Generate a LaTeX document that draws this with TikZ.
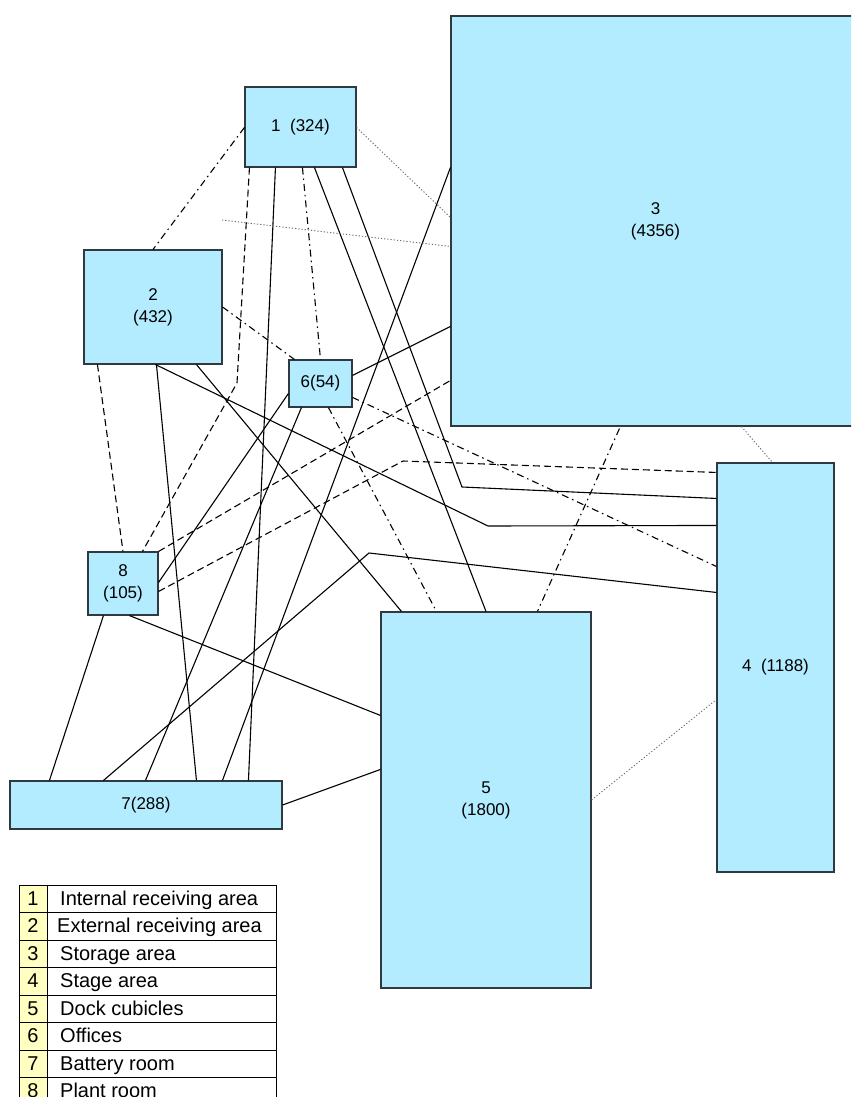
\documentclass[tikz,border=0pt]{standalone}
\usepackage{fontspec}
\setmainfont{Liberation Sans}
\usetikzlibrary{calc}
\definecolor{roomfill}{HTML}{B3ECFF}
\definecolor{roomedge}{HTML}{2E3A40}
\definecolor{keyfill}{HTML}{FFFFC2}
\begin{document}
\begin{tikzpicture}[x=1pt,y=-1pt,
  room/.style={draw=roomedge, fill=roomfill, line width=1.1pt, inner sep=0pt,
    align=center, font=\fontsize{17}{22}\selectfont},
  link/.style={line width=1.1pt, line join=miter},
  dashedlink/.style={link, dash pattern=on 7pt off 4pt},
  dashdotlink/.style={link, dash pattern=on 7pt off 4pt on 1.5pt off 4pt},
  dottedlink/.style={line width=0.9pt, draw=black!60, dash pattern=on 1.2pt off 2pt},
  keycell/.style={draw=black, line width=0.9pt, inner sep=0pt, minimum height=27.5pt},
  keytext/.style={inner sep=0pt, font=\fontsize{20}{24}\selectfont}]
\path[use as bounding box] (0,0) rectangle (851,1097);
\clip (0,0) rectangle (851,1097);

% rooms (area in brackets)
\node[room, minimum width=111, minimum height=80]  (n1) at (300.5,127)   {1\ \ (324)};
\node[room, minimum width=138, minimum height=114] (n2) at (153,307)     {2\\(432)};
\node[room, minimum width=409, minimum height=410] (n3) at (655.5,221)   {3\\(4356)};
\node[room, minimum width=117, minimum height=409] (n4) at (775.5,667.5) {4\ \ (1188)};
\node[room, minimum width=210, minimum height=376] (n5) at (486,800)     {5\\(1800)};
\node[room, minimum width=63,  minimum height=47]  (n6) at (320.5,383.5) {6(54)};
\node[room, minimum width=272, minimum height=48]  (n7) at (146,805)     {7(288)};
\node[room, minimum width=70,  minimum height=63]  (n8) at (123,583.5)   {8\\(105)};

\coordinate (free2) at (222,220);

% relationships: solid
\draw[link] ($(n1.south west)+(31,0)$) -- ($(n7.north west)+(239,0)$);
\draw[link] ($(n1.south west)+(70,0)$) -- (n5.north);
\draw[link] ($(n1.south west)+(98,0)$) -- (462,487) -- ($(n4.north west)+(0,36)$);
\draw[link] ($(n3.north west)+(0,152)$) -- ($(n7.north west)+(213,0)$);
\draw[link] ($(n2.south west)+(72,0)$) -- (488,526) -- ($(n4.north west)+(0,63)$);
\draw[link] ($(n2.south west)+(73,0)$) -- ($(n7.north west)+(187,0)$);
\draw[link] ($(n2.south west)+(113,0)$) -- ($(n5.north west)+(21,0)$);
\draw[link] ($(n6.north east)+(0,16)$) -- ($(n3.north west)+(0,311)$);
\draw[link] ($(n6.south west)+(13,0)$) -- ($(n7.north west)+(136,0)$);
\draw[link] ($(n8.north east)+(0,31)$) -- ($(n6.north west)+(0,34)$);
\draw[link] ($(n8.south west)+(42,0)$) -- ($(n5.north west)+(0,104)$);
\draw[link] ($(n8.south west)+(16,0)$) -- ($(n7.north west)+(40,0)$);
\draw[link] ($(n7.north west)+(94,0)$) -- (369,553) -- ($(n4.north west)+(0,130)$);
\draw[link] (n7.east) -- ($(n5.north west)+(0,158)$);

% relationships: dashed
\draw[dashedlink] ($(n1.south west)+(5,0)$) -- (237,383) -- ($(n8.north west)+(55,0)$);
\draw[dashedlink] ($(n2.south west)+(14,0)$) -- (n8.north);
\draw[dashedlink] (n8.north east) -- ($(n3.north west)+(0,365)$);
\draw[dashedlink] ($(n8.north east)+(0,40)$) -- (403,461) -- ($(n4.north west)+(0,10)$);

% relationships: dash-dot
\draw[dashdotlink] ($(n1.north west)+(0,41)$) -- (n2.north);
\draw[dashdotlink] ($(n1.south west)+(58,0)$) -- (n6.north);
\draw[dashdotlink] (n2.east) -- ($(n6.north west)+(6,0)$);
\draw[dashdotlink] ($(n6.north east)+(0,38)$) -- ($(n4.north west)+(0,104)$);
\draw[dashdotlink] ($(n6.south west)+(40,0)$) -- ($(n5.north west)+(56,0)$);
\draw[dashdotlink] ($(n3.south west)+(169,2)$) -- ($(n5.north west)+(157,0)$);

% relationships: dotted
\draw[dottedlink] ($(n1.north east)+(0,41)$) -- ($(n3.north west)+(0,202)$);
\draw[dottedlink] (free2) -- ($(n3.north west)+(0,231)$);
\draw[dottedlink] ($(n3.south west)+(291,0)$) -- ($(n4.north west)+(56,0)$);
\draw[dottedlink] (n5.east) -- ($(n4.north west)+(0,237)$);

% key
\foreach \i/\txt/\tx in {1/Internal receiving area/60, 2/External receiving area/57,
    3/Storage area/60, 4/Stage area/60, 5/Dock cubicles/60, 6/Offices/60,
    7/Battery room/60, 8/Plant room/60} {
  \node[keycell, fill=keyfill, minimum width=28] (keynum\i) at (33,{871.25+27.5*\i}) {};
  \node[keycell, fill=white, minimum width=229] (keycell\i) at (161.5,{871.25+27.5*\i}) {};
  \node[keytext, anchor=base] (keydigit\i) at (33,{877.5+27.5*\i}) {\i};
  \node[keytext, anchor=base west] (keytext\i) at (\tx,{877.5+27.5*\i}) {\txt};
}
\end{tikzpicture}
\end{document}
